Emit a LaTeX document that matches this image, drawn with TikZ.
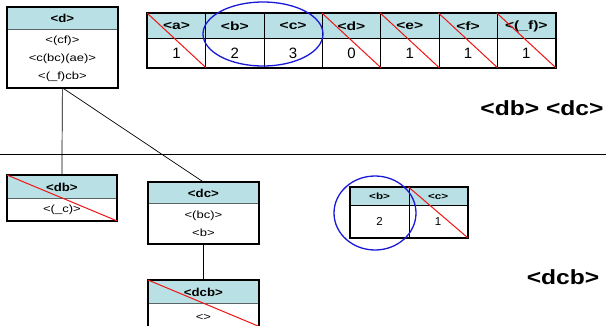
\documentclass[tikz,border=0pt]{standalone}
\usepackage{fontspec}
\setmainfont{Liberation Sans}
% horizontally widened faces of the same family
\newfontfamily\bodyface{Liberation Sans}[FakeStretch=1.25]
\newfontfamily\headface{Liberation Sans}[FakeStretch=1.15]
\newfontfamily\tabface{Liberation Sans}[FakeStretch=1.3]
\newfontfamily\bigface{Liberation Sans}[FakeStretch=1.2]
\definecolor{hdr}{RGB}{185,224,228}
\definecolor{sepgray}{RGB}{90,100,100}
\definecolor{ringblue}{RGB}{25,25,215}
\definecolor{strike}{RGB}{240,20,20}
\begin{document}
\begin{tikzpicture}[x=1pt,y=-1pt,
  headcell/.style={draw=sepgray, line width=0.8pt, fill=hdr, inner sep=0pt,
    anchor=north west, font=\headface\fontsize{11.5}{12}\selectfont\bfseries},
  bodycell/.style={draw=sepgray, line width=0.8pt, fill=white, inner sep=0pt,
    anchor=north west, align=center, font=\bodyface\fontsize{10.4}{18}\selectfont},
  frame/.style={draw=black, line width=1.7pt},
  tabhead/.style={draw=black, line width=0.8pt, fill=hdr, inner sep=0pt,
    anchor=north west, minimum width=58.3pt, minimum height=25pt,
    font=\tabface\fontsize{12}{14}\selectfont\bfseries},
  tabval/.style={draw=black, line width=0.8pt, fill=white, inner sep=0pt,
    anchor=north west, minimum width=58.3pt, minimum height=29pt,
    font=\fontsize{15}{16}\selectfont},
  smallhead/.style={draw=black, line width=0.8pt, fill=hdr, inner sep=0pt,
    anchor=north west, minimum width=58.5pt, minimum height=18pt,
    font=\tabface\fontsize{9}{10}\selectfont\bfseries},
  smallval/.style={draw=black, line width=0.8pt, fill=white, inner sep=0pt,
    anchor=north west, minimum width=58.5pt, minimum height=32pt,
    font=\fontsize{11.5}{12}\selectfont},
  strikeout/.style={draw=strike, line width=1pt},
  ring/.style={draw=ringblue, line width=1.3pt},
  link/.style={draw=black, line width=0.7pt},
  biglabel/.style={font=\bigface\fontsize{20.5}{22}\selectfont\bfseries, inner sep=0pt}]
\useasboundingbox (0,0) rectangle (606,325);
\clip (0,0) rectangle (606,325);

% separator across the page
\coordinate (sepL) at (0,154);
\coordinate (sepR) at (606,154);
\draw[link, line width=0.9pt] (sepL) -- (sepR);

% box <d>
\node[headcell, minimum width=110pt, minimum height=22pt] (dh) at (7,7) {<d>};
\node[bodycell, minimum width=110pt, minimum height=58pt] (db) at (7,29)
  {<(cf)>\\<c(bc)(ae)>\\<(\_f)cb>};
\draw[frame] (dh.north west) rectangle (db.south east);

% box <db>
\node[headcell, minimum width=109pt, minimum height=23pt] (dbh) at (7,175) {<db>};
\node[bodycell, minimum width=109pt, minimum height=22pt] (dbb) at (7,198) {<(\_c)>};
\draw[frame] (dbh.north west) rectangle (dbb.south east);
\draw[strikeout] (dbh.north west) -- (dbb.south east);

% box <dc>
\node[headcell, minimum width=110pt, minimum height=21pt] (dch) at (148,182) {<dc>};
\node[bodycell, minimum width=110pt, minimum height=40pt] (dcb) at (148,203)
  {<(bc)>\\<b>};
\draw[frame] (dch.north west) rectangle (dcb.south east);

% box <dcb>, running off the lower edge
\node[headcell, minimum width=110pt, minimum height=23pt] (dcbh) at (148,280) {<dcb>};
\node[bodycell, minimum width=110pt, minimum height=28pt] (dcbb) at (148,303) {<>};
\draw[frame] (dcbh.north west) rectangle (dcbb.south east);
\coordinate (dcbend) at (258,326);
\draw[strikeout] (dcbh.north west) -- (dcbend);

% tree links
\draw[link] (db.south) -- (dbh.north);
\draw[link] (db.south) -- (dch.north);
\draw[link] (dcb.south) -- (dcbh.north);

% count table
\foreach \lab/\val [count=\i from 0] in {<a>/1,<b>/2,<c>/3,<d>/0,<e>/1,<f>/1,<(\_f)>/1}{
  \node[tabhead] (th\i) at (147+58.3*\i,13) {\lab};
  \node[tabval] (tv\i) at (147+58.3*\i,38) {\val};
}
\draw[frame] (th0.north west) rectangle (tv6.south east);
\foreach \i in {0,3,4,5,6}{
  \draw[strikeout] (th\i.north west) -- (tv\i.south east);
}
\draw[ring] (263,34) ellipse [x radius=60, y radius=32];

% projected table
\node[smallhead] (sbh) at (350,187) {<b>};
\node[smallhead] (sch) at (408.5,187) {<c>};
\node[smallval] (sbv) at (350,205) {2};
\node[smallval] (scv) at (408.5,205) {1};
\draw[frame] (sbh.north west) rectangle (scv.south east);
\draw[strikeout] (sch.north west) -- (scv.south east);
\draw[ring] (375,213) ellipse [x radius=41, y radius=37];

% prefix labels
\node[biglabel] (lab1) at (542,108) {<db> <dc>};
\node[biglabel] (lab2) at (563,277) {<dcb>};
\end{tikzpicture}
\end{document}
